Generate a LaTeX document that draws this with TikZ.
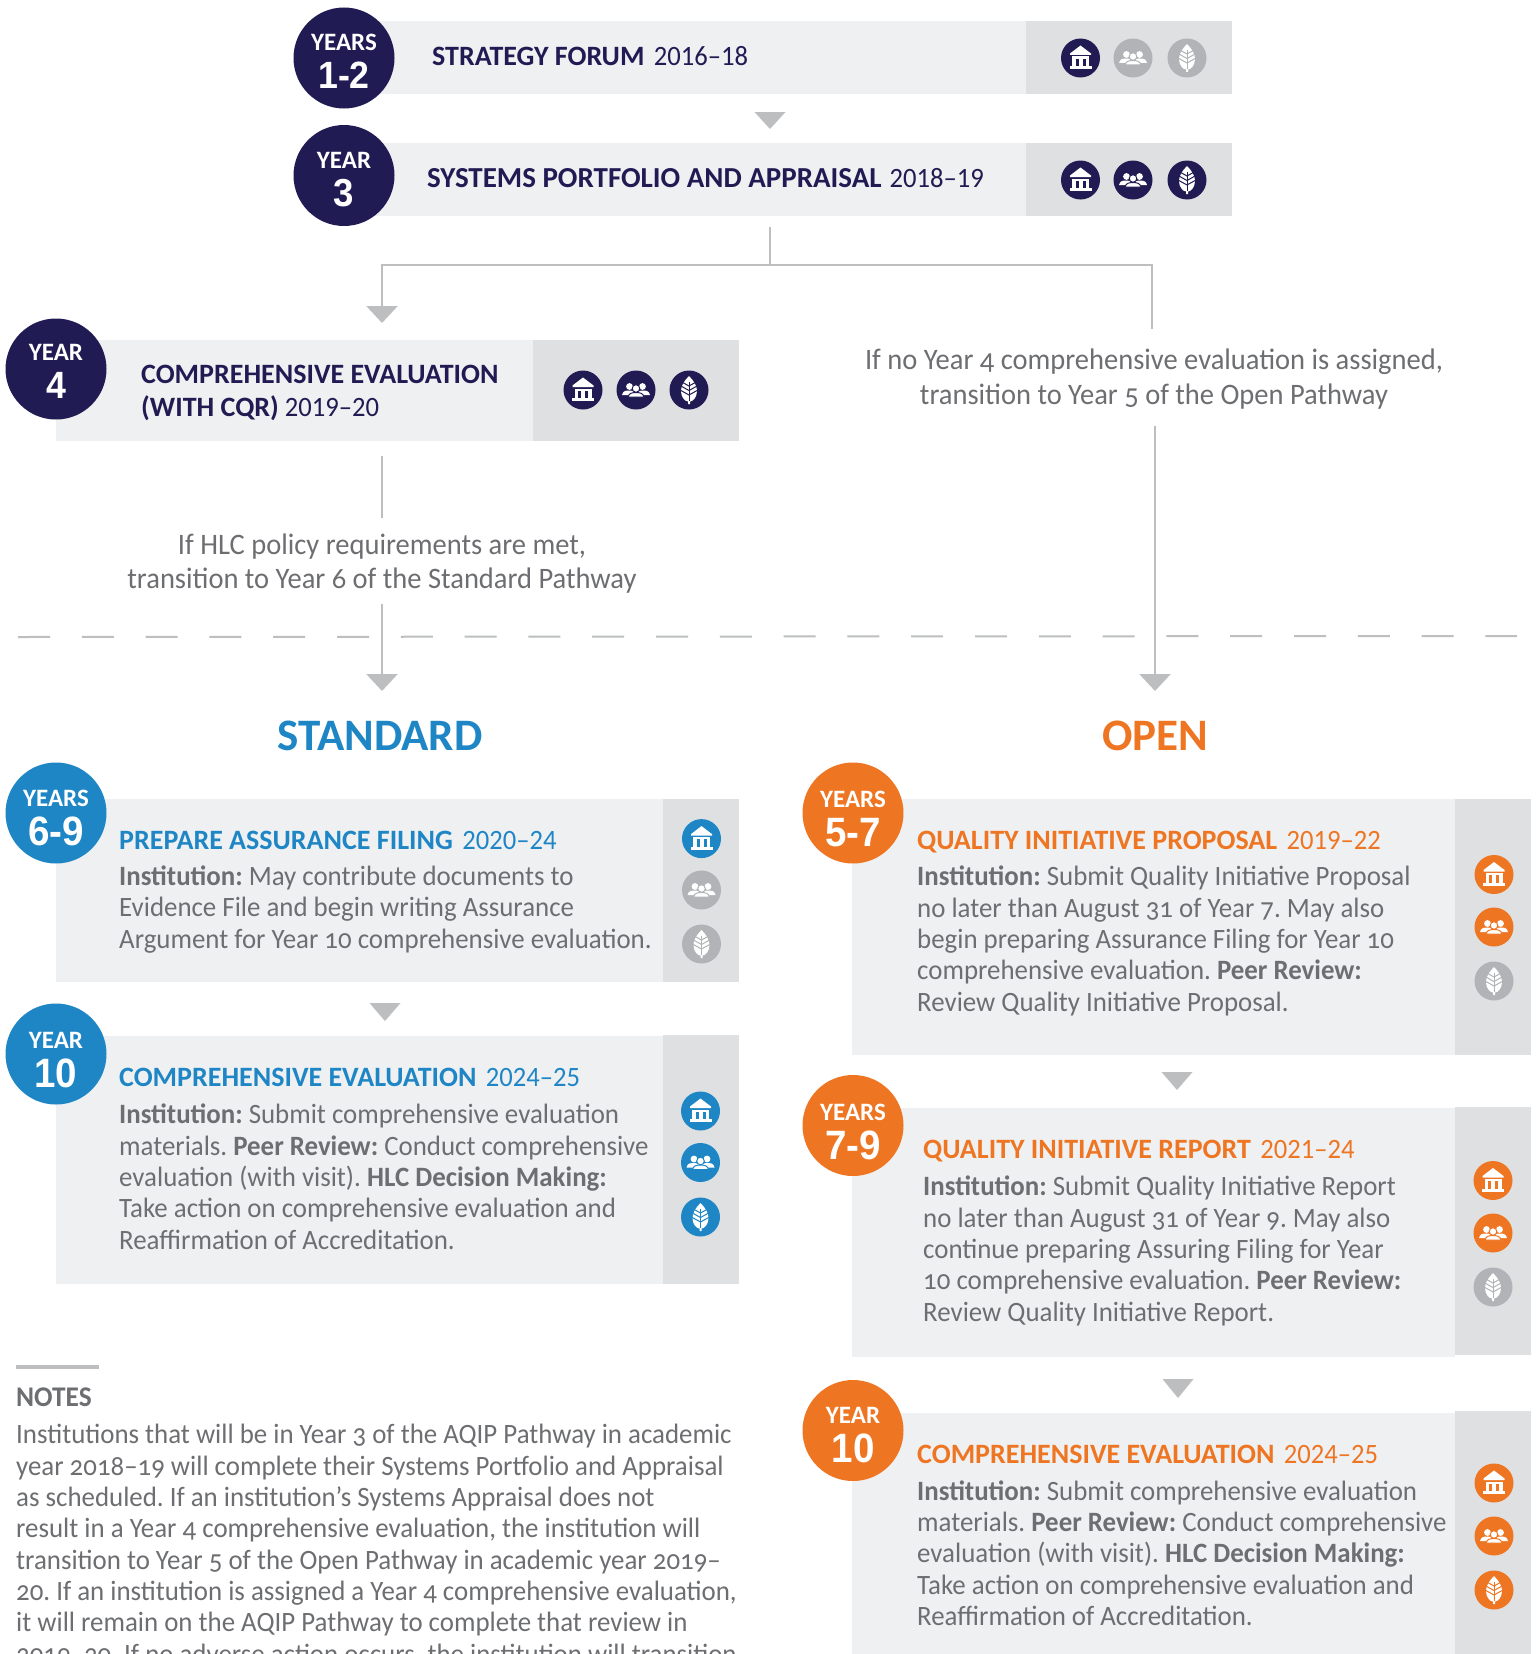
\documentclass[tikz,border=0pt]{standalone}
\usepackage{fontspec}
\setmainfont{Carlito}[Numbers=OldStyle,UprightFeatures={FakeStretch=0.96},BoldFeatures={FakeStretch=0.96}]
\newfontfamily\lin{Carlito}[Numbers=Lining,UprightFeatures={FakeStretch=0.95}]
\newfontfamily\num{Liberation Sans}[BoldFeatures={FakeStretch=0.94}]
\usetikzlibrary{arrows.meta}
\definecolor{navy}{HTML}{201C53}
\definecolor{boxl}{HTML}{EFF0F2}
\definecolor{boxd}{HTML}{DFE0E2}
\definecolor{icong}{HTML}{B1B3B6}
\definecolor{arrowg}{HTML}{BCBEC0}
\definecolor{textg}{HTML}{6D6E71}
\definecolor{stdb}{HTML}{1F86C6}
\definecolor{openo}{HTML}{EE7623}
\newcommand{\fs}[2]{\fontsize{#1}{#2}\selectfont}
\newcommand{\dategap}{\hspace{9.5pt}}
\frenchspacing
\tikzset{
 x=1pt,y=-1pt,
 boxlight/.style={fill=boxl,draw=none},
 boxdark/.style={fill=boxd,draw=none},
 badge/.style={circle,draw=none,minimum size=101pt,inner sep=0pt,text=white},
 iconcirc/.style={circle,draw=none,minimum size=39pt,inner sep=0pt},
 conn/.style={draw=arrowg,line width=2.4pt},
 connarrow/.style={conn,-{Triangle[width=31pt,length=17pt,fill=arrowg,color=arrowg]}},
 body/.style={text=textg,inner sep=0pt,anchor=base west,align=left,font=\frenchspacing\fs{28}{31.3}},
 title/.style={inner sep=0pt,anchor=base west,align=left,font=\lin\fs{28}{33}},
 cond/.style={text=textg,inner sep=0pt,align=center,font=\frenchspacing\fs{29.7}{34.6}},
}
% badge: name, x, y, colour, word, number, text shift, number size
\newcommand{\yearbadge}[8]{%
 \node[badge,fill=#4] (#1) at (#2,#3) {};
 \node[inner sep=0pt,text=white,font=\lin\fs{25}{25}] (#1w) at (#2,#3-15.5+#7) {\textbf{#5}};
 \node[inner sep=0pt,text=white,font=\num\bfseries\fs{#8}{#8}] (#1n) at (#2,#3+17.5+#7) {#6};
}
\newcommand{\gtri}[3]{\fill[arrowg] (#1-15.5,#2) -- (#1+15.5,#2) -- (#1,#3) -- cycle;}
% icons: name, x, y, colour
\newcommand{\bankicon}[4]{%
 \node[iconcirc,fill=#4] (#1) at (#2,#3) {};
 \begin{scope}[shift={(#2,#3)}]
  \fill[white] (0,-12.5) -- (10.5,-4.5) -- (10.5,-3) -- (-10.5,-3) -- (-10.5,-4.5) -- cycle;
  \fill[white] (-8.5,-1.5) rectangle (-5,8.5);
  \fill[white] (-2,-1.5) rectangle (2,8.5);
  \fill[white] (5,-1.5) rectangle (8.5,8.5);
  \fill[white] (-8.5,-1.5) rectangle (8.5,0.8);
  \fill[white] (-11,8) rectangle (11,11);
 \end{scope}}
\newcommand{\peopleicon}[4]{%
 \node[iconcirc,fill=#4] (#1) at (#2,#3) {};
 \begin{scope}[shift={(#2,#3)}]
  \fill[white] (-6.5,-3.5) circle (3.4) (6.5,-3.5) circle (3.4);
  \fill[white] (-14,5) .. controls (-13,0.5) and (-10,0.5) .. (-6,0.5) .. controls (-3,0.5) and (0,1) .. (0,5) -- cycle;
  \fill[white] (14,5) .. controls (13,0.5) and (10,0.5) .. (6,0.5) .. controls (3,0.5) and (0,1) .. (0,5) -- cycle;
  \filldraw[white,draw=#4,line width=1pt] (0,-1.5) circle (3.8);
  \filldraw[white,draw=#4,line width=1pt] (-8,7) .. controls (-7,3) and (-4,2.6) .. (0,2.6) .. controls (4,2.6) and (7,3) .. (8,7) -- cycle;
 \end{scope}}
\newcommand{\leaficon}[4]{%
 \node[iconcirc,fill=#4] (#1) at (#2,#3) {};
 \begin{scope}[shift={(#2,#3)}]
  \fill[white] (0,-14) .. controls (5,-9) and (8,-4) .. (8,1) .. controls (8,7) and (4,11.5) .. (1,11.5) -- (1,14) -- (-1,14) -- (-1,11.5) .. controls (-4,11.5) and (-8,7) .. (-8,1) .. controls (-8,-4) and (-5,-9) .. (0,-14) -- cycle;
  \draw[#4,line width=1pt] (0,-8) -- (0,11);
  \foreach \q in {-4,0.5,5}{\draw[#4,line width=1pt] (9,\q-5) -- (0,\q) -- (-9,\q-5);}
 \end{scope}}
\begin{document}
\begin{tikzpicture}
\useasboundingbox (0,0) rectangle (1538,1654);
\clip (0,0) rectangle (1538,1654);
\fill[white] (0,0) rectangle (1538,1654);
% top boxes
\fill[boxlight] (344,21) rectangle (1026,94);
\fill[boxdark] (1026,21) rectangle (1232,94);
\fill[boxlight] (344,143) rectangle (1026,216);
\fill[boxdark] (1026,143) rectangle (1232,216);
\fill[boxlight] (56,340) rectangle (533,441);
\fill[boxdark] (533,340) rectangle (739,441);
% lower-left boxes
\fill[boxlight] (56,798.5) rectangle (663,982);
\fill[boxdark] (663,798.5) rectangle (739,982);
\fill[boxlight] (56,1036) rectangle (663,1284);
\fill[boxdark] (663,1035) rectangle (739,1284);
% lower-right boxes
\fill[boxlight] (852,798.5) rectangle (1455,1055);
\fill[boxdark] (1455,798.5) rectangle (1531,1055);
\fill[boxlight] (852,1108) rectangle (1455,1357);
\fill[boxdark] (1455,1107) rectangle (1531,1355);
\fill[boxlight] (852,1412.5) rectangle (1455,1654);
\fill[boxdark] (1455,1411) rectangle (1531,1654);
% badges
\yearbadge{b12}{344}{58}{navy}{YEARS}{1-2}{0}{38}
\yearbadge{b3}{344}{175.5}{navy}{YEAR}{3}{0}{39}
\yearbadge{b4}{56}{369}{navy}{YEAR}{4}{-1}{38}
\yearbadge{b69}{56}{813}{stdb}{YEARS}{6-9}{1}{41}
\yearbadge{b10s}{56}{1054}{stdb}{YEAR}{10}{2}{41}
\yearbadge{b57}{853}{813}{openo}{YEARS}{5-7}{2}{41}
\yearbadge{b79}{853}{1125.5}{openo}{YEARS}{7-9}{2}{41}
\yearbadge{b10o}{853}{1430.5}{openo}{YEAR}{10}{0}{41}
% titles
\node[title,text=navy] (t1) at (432,66) {\textbf{STRATEGY FORUM}\dategap 2016–18};
\node[title,text=navy,font=\lin\fs{29}{33}] (t2) at (427,187) {\textbf{SYSTEMS PORTFOLIO AND APPRAISAL}\hspace{8pt}{\fs{28}{33}2018–19}};
\node[title,text=navy] (t3) at (141,416) {\textbf{COMPREHENSIVE EVALUATION}\\\textbf{(WITH CQR)} 2019–20};
\node[title,text=stdb] (t4) at (119,849) {\textbf{PREPARE ASSURANCE FILING}\dategap 2020–24};
\node[title,text=stdb] (t5) at (119,1086.5) {\textbf{COMPREHENSIVE EVALUATION}\dategap 2024–25};
\node[title,text=openo] (t6) at (917,849) {\textbf{QUALITY INITIATIVE PROPOSAL}\dategap 2019–22};
\node[title,text=openo] (t7) at (923,1158) {\textbf{QUALITY INITIATIVE REPORT}\dategap 2021–24};
\node[title,text=openo] (t8) at (917,1463) {\textbf{COMPREHENSIVE EVALUATION}\dategap 2024–25};
% bodies
\node[body] (d4) at (119,948) {\textbf{Institution:} May contribute documents to\\Evidence File and begin writing Assurance\\Argument for Year 10 comprehensive evaluation.};
\node[body] (d5) at (119,1249) {\textbf{Institution:} Submit comprehensive evaluation\\materials. \textbf{Peer Review:} Conduct comprehensive\\evaluation (with visit). \textbf{HLC Decision Making:}\\Take action on comprehensive evaluation and\\Reaffirmation of Accreditation.};
\node[body] (d6) at (917,1011) {\textbf{Institution:} Submit Quality Initiative Proposal\\no later than August 31 of Year 7. May also\\begin preparing Assurance Filing for Year 10\\comprehensive evaluation. \textbf{Peer Review:}\\Review Quality Initiative Proposal.};
\node[body] (d7) at (923,1321) {\textbf{Institution:} Submit Quality Initiative Report\\no later than August 31 of Year 9. May also\\continue preparing Assuring Filing for Year\\10 comprehensive evaluation. \textbf{Peer Review:}\\Review Quality Initiative Report.};
\node[body] (d8) at (917,1625.5) {\textbf{Institution:} Submit comprehensive evaluation\\materials. \textbf{Peer Review:} Conduct comprehensive\\evaluation (with visit). \textbf{HLC Decision Making:}\\Take action on comprehensive evaluation and\\Reaffirmation of Accreditation.};
% headings
\node[inner sep=0pt,text=stdb,font=\lin\bfseries\fs{45}{45}] (std) at (380,736) {STANDARD};
\node[inner sep=0pt,text=openo,font=\lin\bfseries\fs{45}{45}] (opn) at (1155,736) {OPEN};
% conditions
\node[cond] (c1) at (1154,379) {If no Year 4 comprehensive evaluation is assigned,\\transition to Year 5 of the Open Pathway};
\node[cond] (c2) at (382,563.5) {If HLC policy requirements are met,\\transition to Year 6 of the Standard Pathway};
% notes
\fill[arrowg] (16,1364.5) rectangle (99,1368.5);
\node[inner sep=0pt,anchor=base west,text=textg,font=\bfseries\fs{28.5}{28}] (nt) at (16,1406) {NOTES};
\node[body] (nb) at (16,1663) {Institutions that will be in Year 3 of the AQIP Pathway in academic\\year 2018–19 will complete their Systems Portfolio and Appraisal\\as scheduled. If an institution’s Systems Appraisal does not\\result in a Year 4 comprehensive evaluation, the institution will\\transition to Year 5 of the Open Pathway in academic year 2019–\\20. If an institution is assigned a Year 4 comprehensive evaluation,\\it will remain on the AQIP Pathway to complete that review in\\2019–20. If no adverse action occurs, the institution will transition};
% icons
\bankicon{i1a}{1080.5}{58}{navy}\peopleicon{i1b}{1133}{58}{icong}\leaficon{i1c}{1187}{58}{icong}
\bankicon{i2a}{1080.5}{180}{navy}\peopleicon{i2b}{1133}{180}{navy}\leaficon{i2c}{1187}{180}{navy}
\bankicon{i3a}{583}{390}{navy}\peopleicon{i3b}{636}{390}{navy}\leaficon{i3c}{689}{390}{navy}
\bankicon{i4a}{701.5}{838.6}{stdb}\peopleicon{i4b}{701.5}{890}{icong}\leaficon{i4c}{701.5}{944}{icong}
\bankicon{i5a}{700.5}{1111}{stdb}\peopleicon{i5b}{700.5}{1162.5}{stdb}\leaficon{i5c}{700.5}{1217}{stdb}
\bankicon{i6a}{1494}{874.5}{openo}\peopleicon{i6b}{1494}{927}{openo}\leaficon{i6c}{1494}{981}{icong}
\bankicon{i7a}{1493}{1180.5}{openo}\peopleicon{i7b}{1493}{1233}{openo}\leaficon{i7c}{1493}{1287}{icong}
\bankicon{i8a}{1494}{1483}{openo}\peopleicon{i8b}{1494}{1536}{openo}\leaficon{i8c}{1494}{1590}{openo}
% connectors
\gtri{770}{112}{129}
\gtri{385}{1003}{1021}
\gtri{1177}{1072}{1090}
\gtri{1178}{1379}{1398}
\coordinate (s0) at (770,227);
\coordinate (s1) at (770,265);
\coordinate (sl) at (382,265);
\coordinate (sr) at (1152,265);
\coordinate (srend) at (1152,329);
\coordinate (tl) at (382,323);
\draw[conn] (s0) -- (s1);
\draw[connarrow] (s1) -- (sl) -- (tl);
\draw[conn] (s1) -- (sr) -- (srend);
\coordinate (o0) at (1155,426);
\coordinate (o1) at (1155,691);
\draw[connarrow] (o0) -- (o1);
\coordinate (l0) at (382,456);
\coordinate (l1) at (382,518);
\coordinate (l2) at (382,604);
\coordinate (l3) at (382,691);
\draw[conn] (l0) -- (l1);
\draw[connarrow] (l2) -- (l3);
\coordinate (da) at (18,637);
\coordinate (db) at (1517,636);
\draw[draw=arrowg,line width=2pt,dash pattern=on 32pt off 31.8pt] (da) -- (db);
\end{tikzpicture}
\end{document}
